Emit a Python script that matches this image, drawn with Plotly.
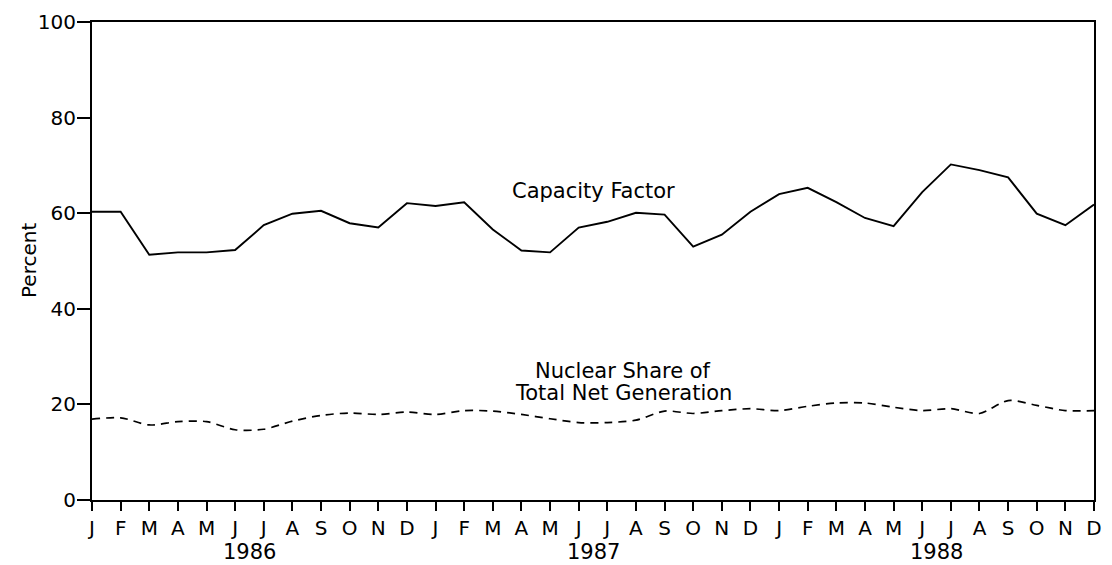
import plotly.graph_objects as go

# Monthly series, January 1986 through December 1988
month_letters = ["J", "F", "M", "A", "M", "J", "J", "A", "S", "O", "N", "D"]
years = ["1986", "1987", "1988"]

capacity_factor = [
    60.3, 60.3, 51.3, 51.8, 51.8, 52.3, 57.5, 59.9, 60.5, 57.9, 57.0, 62.1,
    61.5, 62.3, 56.6, 52.2, 51.8, 57.0, 58.2, 60.1, 59.7, 53.0, 55.5, 60.3,
    64.0, 65.3, 62.3, 59.0, 57.3, 64.4, 70.2, 69.0, 67.5, 59.9, 57.5, 61.8,
]

nuclear_share = [
    16.9, 17.2, 15.7, 16.4, 16.4, 14.7, 14.8, 16.5, 17.7, 18.2, 17.9, 18.4,
    17.9, 18.7, 18.6, 17.9, 17.0, 16.2, 16.2, 16.7, 18.6, 18.1, 18.7, 19.1,
    18.7, 19.6, 20.3, 20.3, 19.4, 18.7, 19.1, 18.1, 20.8, 19.8, 18.7, 18.7,
]

x_idx = list(range(len(capacity_factor)))
tick_text = month_letters * len(years)

FONT = "DejaVu Sans"
LABEL_SIZE = 21

fig = go.Figure()

fig.add_trace(go.Scatter(
    x=x_idx, y=capacity_factor, mode="lines",
    line=dict(color="black", width=1.9),
    hoverinfo="skip", showlegend=False,
))

fig.add_trace(go.Scatter(
    x=x_idx, y=nuclear_share, mode="lines",
    line=dict(color="black", width=1.7, dash="8px,6px", shape="spline", smoothing=0.8),
    hoverinfo="skip", showlegend=False,
))

# Series labels
fig.add_annotation(x=17.5, y=64.7, xref="x", yref="y", text="Capacity Factor",
                   showarrow=False, font=dict(family=FONT, size=LABEL_SIZE, color="black"))
fig.add_annotation(x=18.55, y=26.9, xref="x", yref="y", text="Nuclear Share of",
                   showarrow=False, font=dict(family=FONT, size=LABEL_SIZE, color="black"))
fig.add_annotation(x=18.55, y=22.3, xref="x", yref="y", text="Total Net Generation",
                   showarrow=False, font=dict(family=FONT, size=LABEL_SIZE, color="black"))

# Year labels beneath each block of months
for i, yr in enumerate(years):
    fig.add_annotation(x=12 * i + 5.5, y=0, xref="x", yref="paper", yanchor="top",
                       yshift=-38, text=yr, showarrow=False,
                       font=dict(family=FONT, size=21, color="black"))

# Y axis title
fig.add_annotation(x=0, y=0.5, xref="paper", yref="paper", xshift=-77,
                   text="Percent", textangle=-90, showarrow=False,
                   font=dict(family=FONT, size=20, color="black"))

fig.update_xaxes(
    range=[0, 35], tickmode="array", tickvals=x_idx, ticktext=tick_text,
    ticks="outside", ticklen=9, tickwidth=1.5, tickcolor="black",
    showline=True, linecolor="black", linewidth=2, mirror=True,
    showgrid=False, zeroline=False,
    tickfont=dict(family=FONT, size=20, color="black"),
)
fig.update_yaxes(
    range=[0, 100], tickmode="array", tickvals=[0, 20, 40, 60, 80, 100],
    ticks="outside", ticklen=13, tickwidth=1.5, tickcolor="black",
    ticklabelstandoff=-3,
    showline=True, linecolor="black", linewidth=2, mirror=True,
    showgrid=False, zeroline=False,
    tickfont=dict(family=FONT, size=20, color="black"),
)

fig.update_layout(
    width=1112, height=565,
    margin=dict(l=92, r=10, t=16, b=65),
    paper_bgcolor="white", plot_bgcolor="white",
    font=dict(family=FONT, color="black"),
)

fig.write_html("out.html")
